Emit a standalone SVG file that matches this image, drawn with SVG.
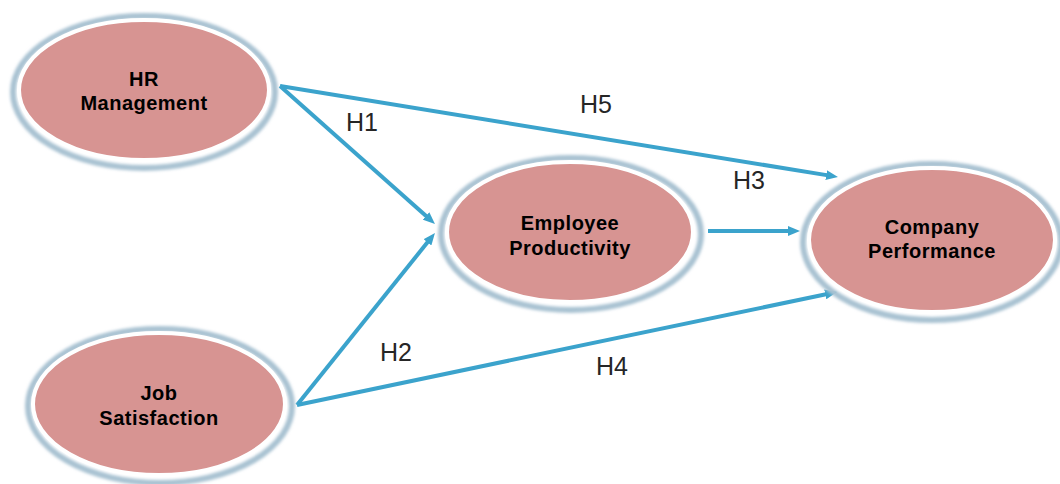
<svg xmlns="http://www.w3.org/2000/svg" width="1060" height="484" viewBox="0 0 1060 484">
<defs>
<style>
.glow{fill:none;stroke:#a9c2d2;stroke-width:6;filter:url(#soft)}
.node{fill:#d79492;stroke:#ffffff;stroke-width:4}
.lbl{font-family:"Liberation Sans",Arial,sans-serif;font-weight:bold;font-size:20px;letter-spacing:0.5px;fill:#000;text-anchor:middle}
.hl{font-family:"Liberation Sans",Arial,sans-serif;font-size:25px;fill:#262626;text-anchor:middle}
.edge{stroke:#3ba3cc;stroke-width:4;fill:none;marker-end:url(#ah)}
</style>
<filter id="soft" x="-10%" y="-10%" width="120%" height="120%"><feGaussianBlur stdDeviation="1.5"/></filter>
<marker id="ah" viewBox="0 0 12 10" refX="2" refY="5" markerWidth="12" markerHeight="10" markerUnits="userSpaceOnUse" orient="auto">
<path d="M0,0 L12,5 L0,10 Z" fill="#3ba3cc"/>
</marker>
</defs>
<rect width="1060" height="484" fill="#ffffff"/>
<g id="connectors">
<line class="edge" x1="280" y1="86" x2="828.1" y2="175.4"/>
<line class="edge" x1="280" y1="86" x2="427.5" y2="217.3"/>
<line class="edge" x1="297" y1="405" x2="428.7" y2="240.8"/>
<line class="edge" x1="297" y1="405" x2="827.2" y2="294"/>
<line class="edge" x1="708" y1="231" x2="790" y2="231"/>
<text class="hl" x="362" y="131">H1</text>
<text class="hl" x="596" y="113">H5</text>
<text class="hl" x="749" y="189">H3</text>
<text class="hl" x="396" y="361">H2</text>
<text class="hl" x="612" y="375">H4</text>
</g>
<g id="hr">
<ellipse class="glow" cx="144" cy="92" rx="131" ry="76"/>
<ellipse class="node" cx="144" cy="90" rx="125" ry="70"/>
<text class="lbl" x="144" y="86">HR</text>
<text class="lbl" x="144" y="110">Management</text>
</g>
<g id="job">
<ellipse class="glow" cx="160" cy="406" rx="132" ry="77"/>
<ellipse class="node" cx="159" cy="404" rx="126" ry="71"/>
<text class="lbl" x="159" y="400">Job</text>
<text class="lbl" x="159" y="425">Satisfaction</text>
</g>
<g id="emp">
<ellipse class="glow" cx="571" cy="234" rx="130" ry="76"/>
<ellipse class="node" cx="570" cy="232" rx="123" ry="70"/>
<text class="lbl" x="570" y="230">Employee</text>
<text class="lbl" x="570" y="255">Productivity</text>
</g>
<g id="comp">
<ellipse class="glow" cx="932" cy="242" rx="129" ry="78"/>
<ellipse class="node" cx="932" cy="240" rx="123" ry="72"/>
<text class="lbl" x="932" y="234">Company</text>
<text class="lbl" x="932" y="258">Performance</text>
</g>
</svg>
